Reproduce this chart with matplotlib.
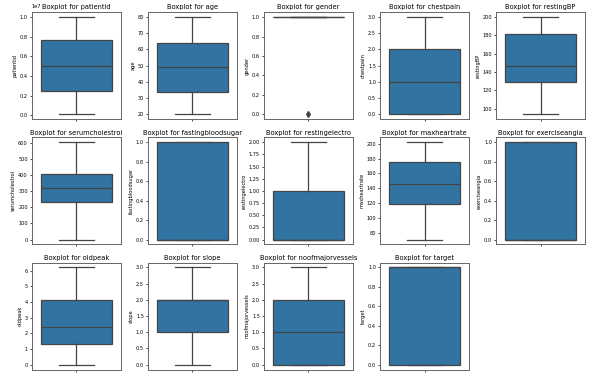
import numpy as np
import matplotlib
matplotlib.use("Agg")
import matplotlib.pyplot as plt

# columns and five-number summaries
columns = ['patientid', 'age', 'gender', 'chestpain', 'restingBP',
           'serumcholestrol', 'fastingbloodsugar', 'restingelectro', 'maxheartrate', 'exerciseangia',
           'oldpeak', 'slope', 'noofmajorvessels', 'target']
whislo = [103368, 20, 1, 0, 94, 0, 0, 0, 71, 0, 0.0, 0, 0, 0]
q1 = [2500000, 34, 1, 0, 129, 235, 0, 0, 119, 0, 1.3, 1, 0, 0]
med = [5000000, 49, 1, 1, 147, 318, 0, 0, 146, 0, 2.4, 2, 1, 1]
q3 = [7700000, 64, 1, 2, 181, 406, 1, 1, 175, 1, 4.1, 2, 2, 1]
whishi = [10000000, 80, 1, 3, 200, 602, 1, 2, 202, 1, 6.2, 3, 3, 1]
fliers = [[], [], [0], [], [], [], [], [], [], [], [], [], [], []]

box_color = '#3274a1'
line_color = '#444444'

fig, axes = plt.subplots(3, 5, figsize=(5.92, 3.81), dpi=100)
fig.subplots_adjust(left=0.054, right=0.988, top=0.968, bottom=0.03, wspace=0.31, hspace=0.17)

for i, ax in enumerate(axes.flat):
    if i >= len(columns):
        ax.axis('off')
        continue
    stats = [dict(whislo=whislo[i], q1=q1[i], med=med[i], q3=q3[i], whishi=whishi[i],
                  fliers=fliers[i], label='')]
    ax.bxp(stats, positions=[0], widths=0.8, patch_artist=True, showfliers=True,
           boxprops=dict(facecolor=box_color, edgecolor=line_color, linewidth=0.9),
           medianprops=dict(color=line_color, linewidth=0.9),
           whiskerprops=dict(color=line_color, linewidth=0.9),
           capprops=dict(color=line_color, linewidth=0.9),
           capwidths=0.4,
           flierprops=dict(marker='d', markerfacecolor=line_color, markeredgecolor=line_color,
                           markersize=3))
    ax.set_xlim(-0.5, 0.5)
    ax.set_xticks([0])
    ax.set_xticklabels([''])
    ax.set_title('Boxplot for ' + columns[i], fontsize=4.8, pad=2)
    ax.set_ylabel(columns[i], fontsize=3.7, labelpad=1.5)
    ax.tick_params(labelsize=3.6, length=1.5, width=0.5, pad=1.5)
    ax.yaxis.get_offset_text().set_fontsize(3.6)
    for sp in ax.spines.values():
        sp.set_linewidth(0.7)
        sp.set_color('#666666')

fig.savefig('out.png', dpi=100)
